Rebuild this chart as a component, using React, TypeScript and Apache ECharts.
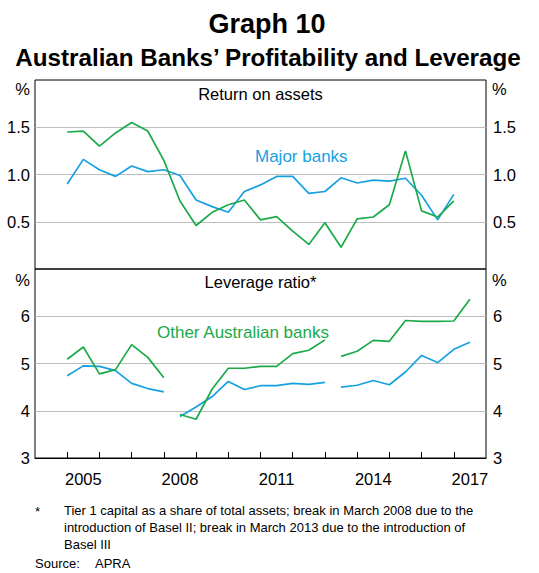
import React, { useEffect, useRef } from "react";
import * as echarts from "echarts";

// ---- Data ----
const yearLabels = ["2005", "2008", "2011", "2014", "2017"];
const yearTicks = [2005, 2006, 2007, 2008, 2009, 2010, 2011, 2012, 2013, 2014, 2015, 2016, 2017];

const roaDates = [
  2005, 2005.5, 2006, 2006.5, 2007, 2007.5, 2008, 2008.5, 2009, 2009.5, 2010, 2010.5,
  2011, 2011.5, 2012, 2012.5, 2013, 2013.5, 2014, 2014.5, 2015, 2015.5, 2016, 2016.5, 2017,
];
const roaMajor = [
  0.9, 1.16, 1.05, 0.98, 1.09, 1.03, 1.05, 0.99, 0.73, 0.66, 0.6, 0.82,
  0.89, 0.98, 0.98, 0.8, 0.82, 0.965, 0.91, 0.94, 0.93, 0.96, 0.78, 0.52, 0.79,
];
const roaOther = [
  1.45, 1.46, 1.3, 1.44, 1.55, 1.46, 1.15, 0.72, 0.46, 0.6, 0.68, 0.73,
  0.52, 0.555, 0.4, 0.26, 0.49, 0.23, 0.53, 0.55, 0.68, 1.25, 0.615, 0.55, 0.72,
];

const levDates1 = [2005, 2005.5, 2006, 2006.5, 2007, 2007.5, 2008];
const levMajor1 = [4.74, 4.95, 4.94, 4.85, 4.58, 4.47, 4.4];
const levOther1 = [5.09, 5.35, 4.78, 4.87, 5.4, 5.13, 4.7];

const levDates2 = [2008.5, 2009, 2009.5, 2010, 2010.5, 2011, 2011.5, 2012, 2012.5, 2013];
const levMajor2 = [3.88, 4.08, 4.3, 4.62, 4.45, 4.53, 4.53, 4.58, 4.56, 4.6];
const levOther2 = [3.92, 3.82, 4.46, 4.9, 4.9, 4.94, 4.94, 5.21, 5.28, 5.5];

const levDates3 = [2013.5, 2014, 2014.5, 2015, 2015.5, 2016, 2016.5, 2017, 2017.5];
const levMajor3 = [4.5, 4.54, 4.64, 4.55, 4.82, 5.17, 5.02, 5.3, 5.45];
const levOther3 = [5.15, 5.26, 5.49, 5.47, 5.91, 5.89, 5.89, 5.9, 6.36];

const BLUE = "#16a0e2";
const GREEN = "#1aaa4a";
const FONT = "'Liberation Sans', Arial, Helvetica, sans-serif";

const pairs = (xs: number[], ys: number[]) => xs.map((x, i) => [x, ys[i]]);

export default function App() {
  const ref = useRef<HTMLDivElement>(null);

  useEffect(() => {
    if (!ref.current) return;
    const chart = echarts.init(ref.current, undefined, { renderer: "svg" });

    const line = (name: string, data: number[][], color: string, gi: number) => ({
      name,
      type: "line",
      data,
      xAxisIndex: gi,
      yAxisIndex: gi * 2,
      showSymbol: false,
      symbol: "none",
      lineStyle: { color, width: 1.7 },
      itemStyle: { color },
      z: 3,
    });

    const grids = [
      { left: 35, top: 80, width: 451, height: 189 },
      { left: 35, top: 269, width: 451, height: 189 },
    ].map((g) => ({ ...g, show: true, borderColor: "#000", borderWidth: 1, backgroundColor: "transparent" }));

    const labelStyle = { color: "#000", fontSize: 16.5, fontFamily: FONT };

    const yAx = (gi: number, pos: string, min: number, max: number, interval: number, fmt: (v: number) => string, split: boolean) => ({
      type: "value",
      gridIndex: gi,
      position: pos,
      min,
      max,
      interval,
      axisLine: { show: false },
      axisTick: { show: false },
      axisLabel: { ...labelStyle, margin: pos === "left" ? 5 : 7, formatter: fmt },
      splitLine: {
        show: split,
        showMinLine: false,
        showMaxLine: false,
        lineStyle: { color: "#bdbdbd", width: 1 },
      },
    });

    const topFmt = (v: number) => (v > 0 && v < 2 ? v.toFixed(1) : "");
    const botFmt = (v: number) => (v < 7 ? String(v) : "");

    const txt = (text: string, x: number, y: number, size: number, opts: any = {}) => ({
      type: "text",
      x,
      y,
      silent: true,
      style: {
        text,
        fill: opts.fill || "#000",
        fontSize: size,
        fontFamily: FONT,
        fontWeight: opts.weight || "normal",
        textAlign: opts.align || "left",
        align: opts.align || "left",
        textVerticalAlign: "middle",
        verticalAlign: "middle",
      },
      z: 10,
    });

    chart.setOption({
      animation: false,
      grid: grids,
      xAxis: [
        {
          type: "value",
          gridIndex: 0,
          min: 2004,
          max: 2018,
          axisLine: { show: false },
          axisTick: { show: false },
          axisLabel: { show: false },
          splitLine: { show: false },
        },
        {
          type: "value",
          gridIndex: 1,
          min: 2004,
          max: 2018,
          axisLine: { show: true, lineStyle: { color: "#000", width: 1 } },
          axisTick: {
            show: true,
            inside: true,
            length: 6,
            customValues: yearTicks,
            lineStyle: { color: "#000", width: 1 },
          },
          axisLabel: {
            ...labelStyle,
            margin: 12,
            customValues: yearLabels.map((y) => Number(y) + 0.5),
            formatter: (v: number) => String(Math.floor(v)),
          },
          splitLine: { show: false },
        },
      ],
      yAxis: [
        yAx(0, "left", 0, 2, 0.5, topFmt, true),
        yAx(0, "right", 0, 2, 0.5, topFmt, false),
        yAx(1, "left", 3, 7, 1, botFmt, true),
        yAx(1, "right", 3, 7, 1, botFmt, false),
      ],
      series: [
        line("Major banks ROA", pairs(roaDates, roaMajor), BLUE, 0),
        line("Other Australian banks ROA", pairs(roaDates, roaOther), GREEN, 0),
        line("Major banks lev 1", pairs(levDates1, levMajor1), BLUE, 1),
        line("Major banks lev 2", pairs(levDates2, levMajor2), BLUE, 1),
        line("Major banks lev 3", pairs(levDates3, levMajor3), BLUE, 1),
        line("Other banks lev 1", pairs(levDates1, levOther1), GREEN, 1),
        line("Other banks lev 2", pairs(levDates2, levOther2), GREEN, 1),
        line("Other banks lev 3", pairs(levDates3, levOther3), GREEN, 1),
      ],
      graphic: [
        txt("Graph 10", 267, 24, 27, { weight: "bold", align: "center" }),
        txt("Australian Banks’ Profitability and Leverage", 268, 57, 24.2, { weight: "bold", align: "center" }),
        txt("%", 30, 89, 16.5, { align: "right" }),
        txt("%", 492, 89, 16.5),
        txt("%", 30, 280, 16.5, { align: "right" }),
        txt("%", 492, 280, 16.5),
        txt("Return on assets", 260.5, 94, 16.5, { align: "center" }),
        txt("Leverage ratio*", 260.5, 282, 16.5, { align: "center" }),
        txt("Major banks", 255, 156, 17, { fill: BLUE }),
        txt("Other Australian banks", 157, 332, 17, { fill: GREEN }),
        txt("*", 35, 511, 13.3),
        txt("Tier 1 capital as a share of total assets; break in March 2008 due to the", 64, 510, 13),
        txt("introduction of Basel II; break in March 2013 due to the introduction of", 64, 527, 13),
        txt("Basel III", 64, 544, 13),
        txt("Source:", 35, 563, 13),
        txt("APRA", 95, 563, 13),
      ],
    });

    return () => chart.dispose();
  }, []);

  return (
    <div
      ref={ref}
      style={{ position: "fixed", left: 0, top: 0, width: 539, height: 573, background: "#fff" }}
    />
  );
}
